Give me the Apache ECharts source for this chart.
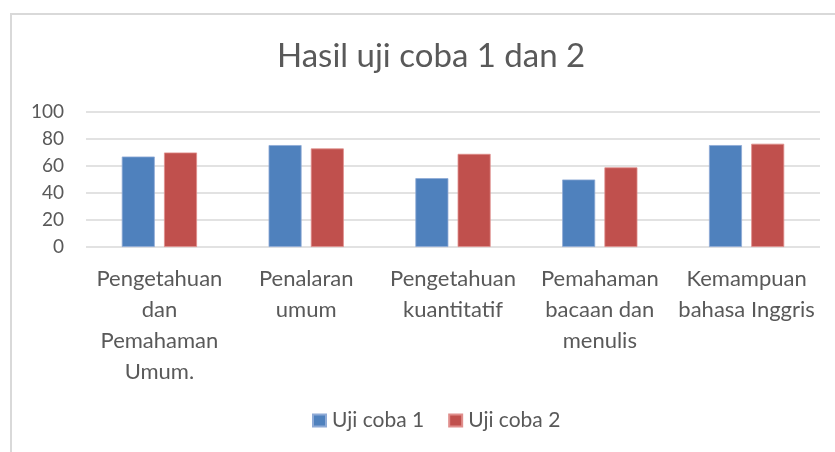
<!DOCTYPE html>
<html><head><meta charset="utf-8">
<script src="https://cdn.jsdelivr.net/npm/echarts@6/dist/echarts.min.js"></script>
<style>html,body{margin:0;padding:0;background:#fff}#c{width:835px;height:452px}</style>
</head><body><div id="c"></div>
<script>
const categories = [
  'Pengetahuan\ndan\nPemahaman\nUmum.',
  'Penalaran\numum',
  'Pengetahuan\nkuantitatif',
  'Pemahaman\nbacaan dan\nmenulis',
  'Kemampuan\nbahasa Inggris'
];
const seriesNames = ['Uji coba 1', 'Uji coba 2'];
const ujiCoba1 = [67, 75.5, 51, 50, 75.5];
const ujiCoba2 = [70, 73, 69, 59, 76.5];
const yTicks = { min: 0, max: 100, interval: 20 };

const FONT = 'Lato, "Open Sans", sans-serif';
const chart = echarts.init(document.getElementById('c'), null, { renderer: 'canvas' });
chart.setOption({
  animation: false,
  backgroundColor: '#fff',
  graphic: [{
    type: 'polyline',
    shape: { points: [[11, 460], [11, 14], [840, 14]] },
    style: { stroke: '#d9d9d9', lineWidth: 2, fill: null }
  }],
  title: {
    text: 'Hasil uji coba 1 dan 2',
    left: 272, top: 35,
    textStyle: { fontFamily: FONT, fontSize: 33, fontWeight: 'normal', color: '#595959' }
  },
  legend: {
    bottom: 16, left: 307,
    itemWidth: 13, itemHeight: 12, itemGap: 24,
    icon: 'rect',
    textStyle: { fontFamily: FONT, fontSize: 21, color: '#595959', padding: [0, 0, 0, 1] },
    data: seriesNames
  },
  grid: { left: 86, right: 15, top: 112, bottom: 205 },
  xAxis: {
    type: 'category', data: categories,
    axisLine: { show: false }, axisTick: { show: false },
    axisLabel: { interval: 0, margin: 16, fontFamily: FONT, fontSize: 22, color: '#595959', lineHeight: 31 }
  },
  yAxis: {
    type: 'value', min: yTicks.min, max: yTicks.max, interval: yTicks.interval,
    axisLine: { show: false }, axisTick: { show: false },
    axisLabel: { margin: 22, fontFamily: FONT, fontSize: 19, color: '#595959' },
    splitLine: { lineStyle: { color: '#d9d9d9', width: 1.5 } }
  },
  series: [
    { name: seriesNames[0], type: 'bar', data: ujiCoba1, barWidth: 33, barGap: '28%',
      itemStyle: { color: '#4f81bd', borderColor: '#8eaad6', borderWidth: 0.8 } },
    { name: seriesNames[1], type: 'bar', data: ujiCoba2, barWidth: 33,
      itemStyle: { color: '#c0504d', borderColor: '#e08e8c', borderWidth: 0.8 } }
  ]
});
</script></body></html>
